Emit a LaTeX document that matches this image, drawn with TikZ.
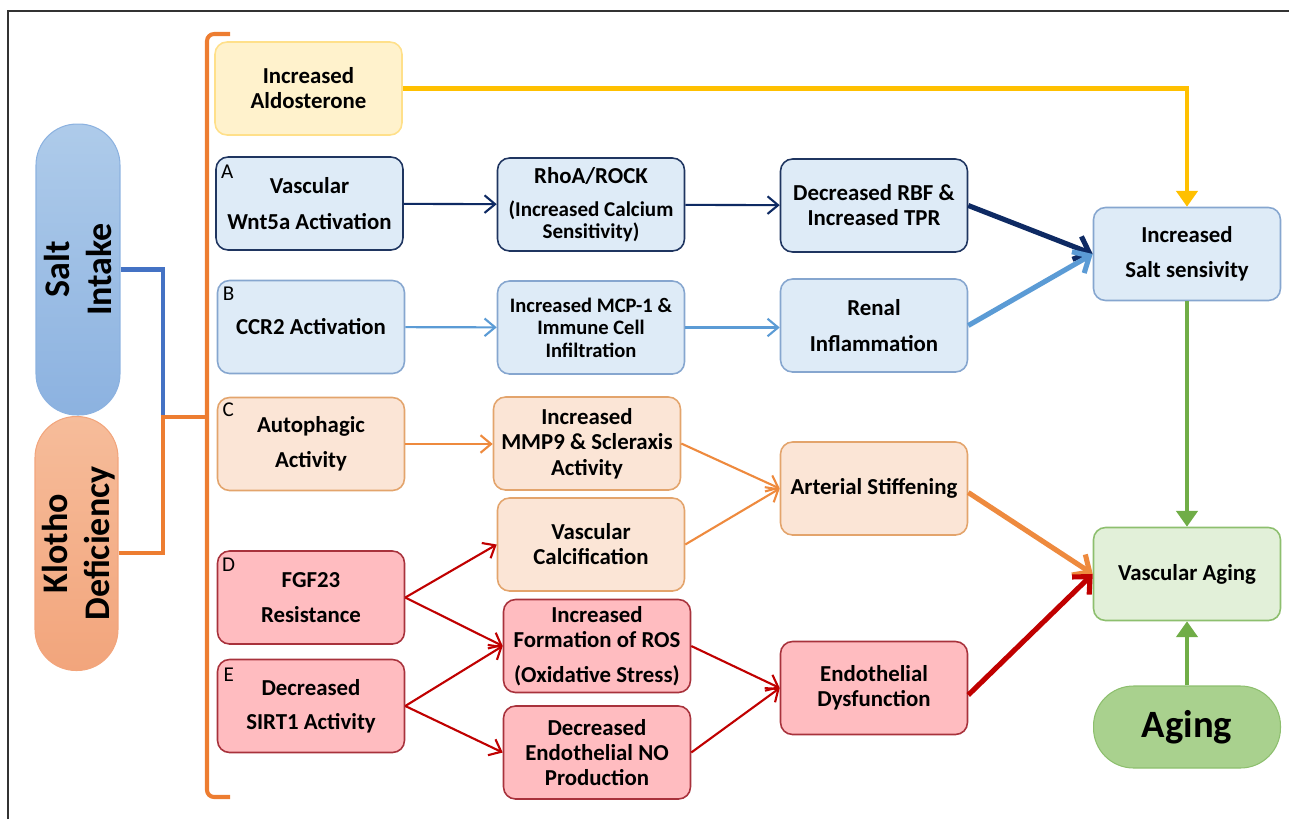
\documentclass[tikz,border=0pt]{standalone}
\usepackage{fontspec}
\setmainfont{Carlito}
\usetikzlibrary{arrows.meta}
\definecolor{blueF}{HTML}{DEEBF7}
\definecolor{navyB}{HTML}{1F3560}
\definecolor{lblueB}{HTML}{86A6CF}
\definecolor{peachF}{HTML}{FBE5D6}
\definecolor{peachB}{HTML}{E3A46C}
\definecolor{pinkF}{HTML}{FFBCC0}
\definecolor{pinkB}{HTML}{A8323C}
\definecolor{yelF}{HTML}{FFF2CC}
\definecolor{yelB}{HTML}{FFE08A}
\definecolor{greenF}{HTML}{E2F0D9}
\definecolor{greenB}{HTML}{8DBF6E}
\definecolor{navyA}{HTML}{0E2A63}
\definecolor{lblueA}{HTML}{5B9BD5}
\definecolor{orA}{HTML}{EE8A3E}
\definecolor{redA}{HTML}{C00000}
\definecolor{yelA}{HTML}{FFC000}
\definecolor{greenA}{HTML}{70AD47}
\definecolor{connBlue}{HTML}{4472C4}
\definecolor{bracketOr}{HTML}{ED7D31}
\definecolor{agingF}{HTML}{A9D18E}
\definecolor{saltTop}{HTML}{AECBEA}
\definecolor{saltBot}{HTML}{8CB2E0}
\definecolor{kloTop}{HTML}{F6BC9A}
\definecolor{kloBot}{HTML}{F2A57C}
\begin{document}
\begin{tikzpicture}[x=0.02cm,y=-0.02cm,
  box/.style={draw, rounded corners=0.24cm, minimum width=3.74cm, minimum height=1.86cm, align=center, inner sep=2pt, line width=0.9pt},
  bluebox/.style={box, fill=blueF, draw=navyB},
  lbluebox/.style={box, fill=blueF, draw=lblueB},
  peachbox/.style={box, fill=peachF, draw=peachB},
  pinkbox/.style={box, fill=pinkF, draw=pinkB},
  f13/.style={font=\fontsize{13}{20}\selectfont\bfseries},
  f13t/.style={font=\fontsize{13}{14.2}\selectfont\bfseries},
  f12t/.style={font=\fontsize{11.7}{12.8}\selectfont\bfseries},
  lab/.style={font=\fontsize{12}{14}\selectfont, inner sep=0pt},
  thin/.style={line width=1.2pt, -{Straight Barb[length=6pt,width=10pt]}},
  thick/.style={line width=2.9pt, -{Straight Barb[length=7.5pt,width=14pt]}},
  tri/.style={line width=2.4pt, -{Triangle[length=9pt,width=12pt]}}
]
\useasboundingbox (0,0) rectangle (1289,819);
\draw[line width=1pt, black!80] (8,819) -- (8,11) -- (1289,11);

% left pills
\node[draw=saltBot, line width=0.6pt, top color=saltTop, bottom color=saltBot, rounded corners=0.82cm, minimum width=1.68cm, minimum height=5.82cm] (salt) at (78,269.5) {};
\node[rotate=90, font=\fontsize{20.5}{24}\selectfont\bfseries, align=center] (salttxt) at (salt.center) {Salt\\Intake};
\node[draw=kloBot, line width=0.6pt, top color=kloTop, bottom color=kloBot, rounded corners=0.82cm, minimum width=1.66cm, minimum height=5.08cm] (klotho) at (76.5,543.5) {};
\node[rotate=90, font=\fontsize{20.5}{24}\selectfont\bfseries, align=center] (klothotxt) at ([xshift=0.05cm]klotho.center) {Klotho\\Deficiency};

% bracket
\coordinate (m) at (163,417);
\coordinate (j) at (207,417);
\draw[bracketOr, line width=2.3pt, rounded corners=4pt] (230,34) -- (207,34) -- (207,797) -- (230,797);
\draw[connBlue, line width=2.3pt] (salt.east) -| (m);
\draw[bracketOr, line width=2.3pt] ([yshift=-0.19cm]klotho.east) -| (m) -- (j);

% column 1
\node[box, fill=yelF, draw=yelB, f13t] (ald) at (308.5,88.5) {Increased\\Aldosterone};
\node[bluebox, f13] (a) at (309.5,203.5) {Vascular\\Wnt5a Activation};
\node[lbluebox, f13] (b) at (311,327) {CCR2 Activation};
\node[peachbox, f13] (c) at (311,444) {Autophagic\\Activity};
\node[pinkbox, f13] (d) at (311,597.5) {FGF23\\Resistance};
\node[pinkbox, font=\fontsize{13}{19.3}\selectfont\bfseries] (e) at (311,706) {Decreased\\SIRT1 Activity};
\node[lab] (la) at ([xshift=0.24cm,yshift=-0.31cm]a.north west) {A};
\node[lab] (lb) at ([xshift=0.24cm,yshift=-0.29cm]b.north west) {B};
\node[lab] (lc) at ([xshift=0.23cm,yshift=-0.27cm]c.north west) {C};
\node[lab] (ld) at ([xshift=0.24cm,yshift=-0.30cm]d.north west) {D};
\node[lab] (le) at ([xshift=0.24cm,yshift=-0.33cm]e.north west) {E};

% column 2
\node[bluebox, font=\fontsize{12}{12.6}\selectfont\bfseries] (rho) at (591,204.5) {{\fontsize{13}{12.6}\selectfont RhoA/ROCK}\\[6.5pt](Increased Calcium\\Sensitivity)};
\node[lbluebox, f12t] (mcp) at (591,327.5) {Increased MCP-1 \&\\Immune Cell\\Infiltration};
\node[peachbox, font=\fontsize{13}{14.4}\selectfont\bfseries] (mmp) at (587,443.5) {Increased\\MMP9 \& Scleraxis\\Activity};
\node[peachbox, f13t] (vcalc) at (591,544.5) {Vascular\\Calcification};
\node[pinkbox, f13t] (ros) at (597,646) {Increased\\Formation of ROS\\[6pt](Oxidative Stress)};
\node[pinkbox, f13t] (no) at (597,752.5) {Decreased\\Endothelial NO\\Production};

% column 3
\node[bluebox, f13t] (rbf) at (874,205.5) {Decreased RBF \&\\Increased TPR};
\node[lbluebox, f13] (renal) at (874,325.5) {Renal\\Inflammation};
\node[peachbox, f13] (art) at (874,488.5) {Arterial Stiffening};
\node[pinkbox, f13t] (endo) at (874,688) {Endothelial\\Dysfunction};

% column 4
\node[lbluebox, f13] (ss) at (1187,254) {Increased\\Salt sensivity};
\node[box, fill=greenF, draw=greenB, f13] (va) at (1187,574) {Vascular Aging};
\node[draw=greenB, line width=0.6pt, fill=agingF, rounded corners=0.8cm, minimum width=3.74cm, minimum height=1.64cm, font=\fontsize{22}{24}\selectfont\bfseries] (aging) at (1187,727) {Aging};

% arrows
\draw[yelA, line width=2.4pt, -{Triangle[length=9pt,width=12pt]}] (ald.east) -| (ss.north);
\draw[navyA, thin] (a) -- (rho);
\draw[navyA, thin] (rho) -- (rbf);
\draw[navyA, thick] (rbf.east) -- (ss.west);
\draw[lblueA, thin] (b) -- (mcp);
\draw[lblueA, thin] (mcp.east) -- (renal.west |- mcp.east);
\draw[lblueA, thick] (renal.east) -- (ss.west);
\draw[orA, thin] (c) -- (mmp.west |- c.east);
\draw[orA, thin] (mmp.east) -- (art.west);
\draw[orA, thin] (vcalc.east) -- (art.west);
\draw[orA, thick] ([yshift=-0.08cm]art.east) -- (va.west);
\draw[redA, thin] (d.east) -- (vcalc.west);
\draw[redA, thin] (d.east) -- (ros.west);
\draw[redA, thin] (e.east) -- (ros.west);
\draw[redA, thin] (e.east) -- (no.west);
\draw[redA, thin] (ros.east) -- (endo.west);
\draw[redA, thin] (no.east) -- (endo.west);
\draw[redA, thick] ([yshift=-0.14cm]endo.east) -- (va.west);
\draw[greenA, tri] (ss.south) -- (va.north);
\draw[greenA, tri] (aging.north) -- (va.south);
\end{tikzpicture}
\end{document}
